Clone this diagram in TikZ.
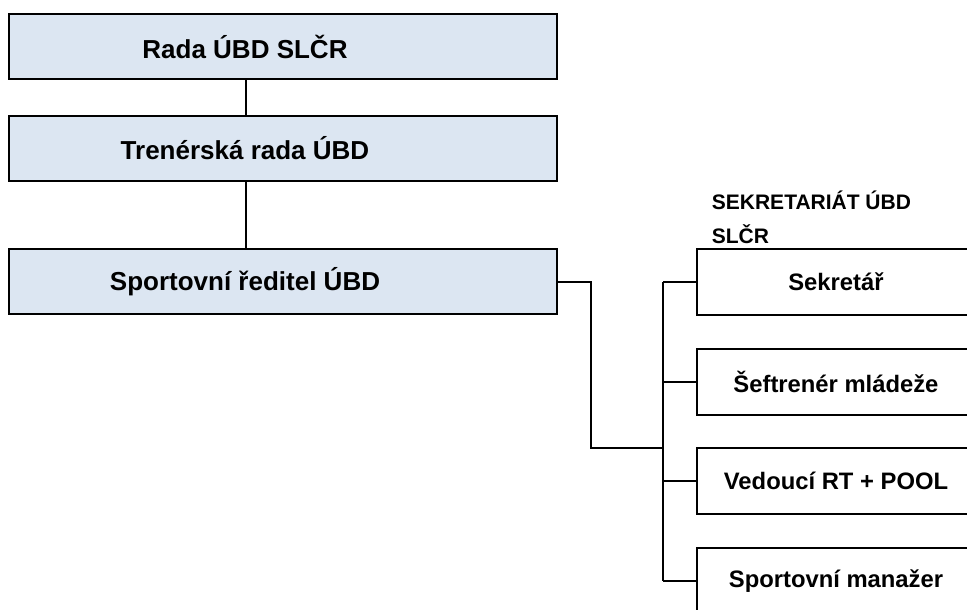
\documentclass[tikz,border=0pt]{standalone}
\usepackage{fontspec}
\setmainfont{Liberation Sans}
\definecolor{boardblue}{RGB}{220,230,242}

\begin{document}
\begin{tikzpicture}[x=1pt,y=-1pt]
      \tikzset { board/.style = { shape=rectangle,draw,line width=2pt,fill=boardblue,minimum width=548pt,minimum height=65pt } }
      \tikzset { boardtext/.style = { font=\fontsize{26}{30}\selectfont\bfseries,xshift=-38pt } }
      \tikzset { staff/.style = { shape=rectangle,draw,line width=2pt,minimum width=278pt,minimum height=66pt,font=\fontsize{23.8}{30}\selectfont\bfseries } }
      \tikzset { link/.style = { line width=2pt } }

      \clip (0,0) rectangle (967,610);

      \node[board,label={[boardtext]center:Rada ÚBD SLČR}] (rada) at (283,47) {};
      \node[board,label={[boardtext]center:Trenérská rada ÚBD}] (trener) at (283,148) {};
      \node[board,label={[boardtext]center:Sportovní ředitel ÚBD}] (sport) at (283,281.5) {};

      \node[anchor=base west,inner sep=0pt,align=left,font=\fontsize{21}{34}\selectfont\bfseries] (sekr) at (711.7,243) {SEKRETARIÁT ÚBD\\SLČR};

      \node[staff] (s1) at (836,282) {Sekretář};
      \node[staff] (s2) at (836,382) {Šeftrenér mládeže};
      \node[staff] (s3) at (836,481) {Vedoucí RT + POOL};
      \node[staff] (s4) at (836,581) {Sportovní manažer};

      \coordinate (spine) at (246,0);
      \coordinate (fork) at (591,448);
      \coordinate (bus) at (663,448);

      \draw[link] (spine |- rada.south) to (spine |- trener.north);
      \draw[link] (spine |- trener.south) to (spine |- sport.north);
      \draw[link] (sport.east) -| (fork) -- (bus);
      \draw[link] (bus |- s1.west) -- (bus |- s4.west);
      \foreach \n in {s1,s2,s3,s4}
            \draw[link] (bus |- \n.west) -- (\n.west);

    \end{tikzpicture}
\end{document}
